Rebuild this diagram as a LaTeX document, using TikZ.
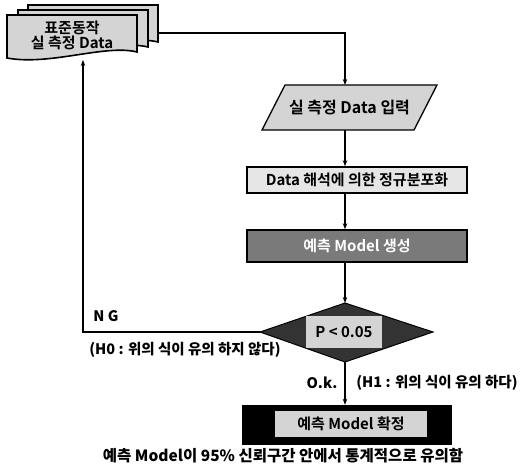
\documentclass[tikz,border=0pt]{standalone}
\usepackage{fontspec}
\newfontfamily\kr{Noto Sans CJK KR}[BoldFont={Noto Sans CJK KR Bold}]
\newfontfamily\krb{Noto Sans CJK KR Black}
\usetikzlibrary{arrows.meta}
\definecolor{lightg}{HTML}{D4D4D4}
\definecolor{paleg}{HTML}{E6E6E6}
\definecolor{midg}{HTML}{7A7A7A}
\definecolor{darkg}{HTML}{333333}
\tikzset{
  ln/.style={line width=1.3pt},
  arr/.style={ln,-{Stealth[length=6pt,width=4.5pt]}},
  docshape/.style={fill=lightg,draw=black,line width=1.6pt},
  boxtxt/.style={font=\kr\bfseries\fontsize{15}{17}\selectfont},
  lbl/.style={font=\krb\fontsize{14.5}{16}\selectfont},
}
\begin{document}
\begin{tikzpicture}[x=1pt,y=-1pt]
\useasboundingbox (0,0) rectangle (529,470);
% stacked documents
\foreach \dx/\dy in {21/-10,11/-5,0/0}{
  \filldraw[docshape] (7+\dx,15+\dy) -- (137+\dx,15+\dy) -- (137+\dx,52+\dy)
     .. controls (105+\dx,44+\dy) and (50+\dx,66+\dy) .. (7+\dx,58+\dy) -- cycle;
}
\node[boxtxt,align=center] (docs) at (72,35) {표준동작\\[-2pt]실 측정 Data};
\coordinate (docR) at (158,33);
\coordinate (docB) at (83,60);
% parallelogram
\filldraw[fill=lightg,draw=black,line width=1.3pt] (262,130) -- (285,85) -- (437,85) -- (414,130) -- cycle;
\node[boxtxt,font=\kr\bfseries\fontsize{16}{18}\selectfont] (inp) at (349.5,107.5) {실 측정 Data 입력};
\coordinate (inpT) at (345,85);
\coordinate (inpB) at (345,130);
% rect 2
\node[boxtxt,draw=black,line width=1.6pt,fill=paleg,minimum width=220pt,minimum height=26pt,inner sep=0pt] (norm) at (357,180) {Data 해석에 의한 정규분포화};
% rect 3
\node[boxtxt,text=white,draw=black,line width=1.6pt,fill=midg,minimum width=220pt,minimum height=32pt,inner sep=0pt] (model) at (357,246) {예측 Model 생성};
% diamond
\filldraw[fill=darkg,draw=black,line width=1pt] (260,332) -- (345,303) -- (433,332) -- (345,362) -- cycle;
\node[boxtxt,fill=lightg,minimum width=76pt,minimum height=32pt,inner sep=0pt] (test) at (344,332) {P < 0.05};
\coordinate (decT) at (345,303);
\coordinate (decB) at (345,362);
\coordinate (decL) at (260,332);
% final box
\node[fill=black,minimum width=210pt,minimum height=40pt,inner sep=0pt] (fin) at (347,425) {};
\node[boxtxt,fill=lightg,minimum width=152pt,minimum height=26pt,inner sep=0pt] (fintxt) at (351,424) {예측 Model 확정};
% connectors
\draw[arr] (docR) -| (inpT);
\draw[arr] (inpB) -- (norm.north -| inpB);
\draw[arr] (norm.south -| inpB) -- (model.north -| inpB);
\draw[arr] (model.south -| inpB) -- (decT);
\draw[arr] (decB) -- (fin.north -| decB);
\draw[arr] (decL) -| (docB);
% labels
\node[lbl] (ng) at (106,316) {N G};
\node[lbl] (h0) at (185,350) {(H0 : 위의 식이 유의 하지 않다)};
\node[lbl] (ok) at (322,383) {O.k.};
\node[lbl] (h1) at (437,383) {(H1 : 위의 식이 유의 하다)};
\node[font=\krb\fontsize{15.5}{17}\selectfont] (res) at (283,456) {예측 Model이 95\% 신뢰구간 안에서 통계적으로 유의함};
\end{tikzpicture}
\end{document}
